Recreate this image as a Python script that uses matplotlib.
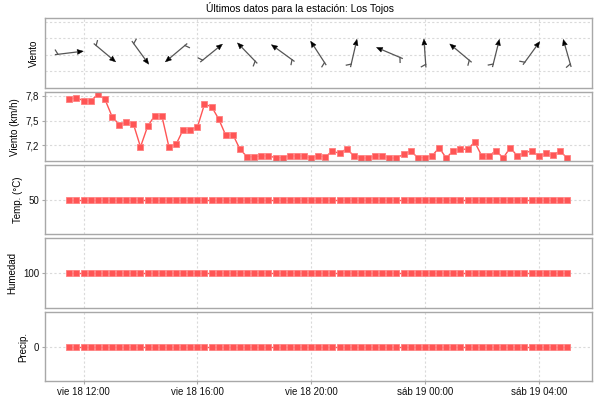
import numpy as np
import pandas as pd
import matplotlib
matplotlib.use('Agg')
import matplotlib.pyplot as plt
import matplotlib.dates as mdates
import matplotlib.transforms as mtransforms
from matplotlib.patches import Polygon
from matplotlib.ticker import FuncFormatter

plt.rcParams['font.family'] = ['Liberation Sans', 'DejaVu Sans']
plt.rcParams['font.size'] = 7

# datos: una lectura cada 15 minutos
horas = pd.date_range('2010-06-18 11:30', periods=71, freq='15min')

viento = [7.76, 7.78, 7.74, 7.74, 7.82, 7.76, 7.55, 7.45, 7.48, 7.46, 7.18,
          7.43, 7.56, 7.56, 7.18, 7.21, 7.39, 7.39, 7.42, 7.70, 7.67, 7.52,
          7.32, 7.33, 7.15, 7.06, 7.06, 7.07, 7.07, 7.05, 7.05, 7.07, 7.07,
          7.07, 7.045, 7.07, 7.06, 7.13, 7.10, 7.16, 7.07, 7.045, 7.045, 7.07,
          7.07, 7.045, 7.045, 7.09, 7.13, 7.05, 7.05, 7.07, 7.17, 7.045, 7.135,
          7.155, 7.15, 7.24, 7.07, 7.07, 7.135, 7.045, 7.17, 7.07, 7.11, 7.13,
          7.07, 7.10, 7.08, 7.13, 7.045]
temperatura = [50] * 71
humedad = [100] * 71
precip = [0] * 71

# direccion de la flecha (grados, 0 = norte) cada 5 lecturas
dir_viento = [83, 130, 144, 230, 51, 316, 306, 327, 13, 293, 356, 310, 14, 36, 344]

dias = ['lun', 'mar', 'mié', 'jue', 'vie', 'sáb', 'dom']
rojo = '#ff5555'
gris = '#a8a8a8'

fig = plt.figure(figsize=(6, 4), dpi=100)
W, H = 600., 400.


def rect(top, bottom):
    return [44.5 / W, 1 - bottom / H, (592 - 44.5) / W, (bottom - top) / H]


ax0 = fig.add_axes(rect(18, 88.3))
ax1 = fig.add_axes(rect(92.3, 161.3), sharex=ax0)
ax2 = fig.add_axes(rect(165, 234), sharex=ax0)
ax3 = fig.add_axes(rect(238.3, 307.7), sharex=ax0)
ax4 = fig.add_axes(rect(312.3, 381), sharex=ax0)
axes = [ax0, ax1, ax2, ax3, ax4]

t0, t1 = mdates.date2num(horas[0]), mdates.date2num(horas[-1])
span = t1 - t0


def fmt(x, pos):
    d = mdates.num2date(x)
    return dias[d.weekday()] + ' ' + d.strftime('%d %H:%M')


for ax in axes:
    for s in ax.spines.values():
        s.set_color(gris)
        s.set_linewidth(1)
    ax.grid(True, color='#dadada', linestyle=(0, (2, 2)), linewidth=0.8)
    ax.set_axisbelow(True)
    ax.tick_params(length=2, color=gris, labelsize=7, pad=2, labelcolor='#111111')
    ax.xaxis.set_major_locator(mdates.HourLocator(byhour=range(0, 24, 4)))
    ax.xaxis.set_major_formatter(FuncFormatter(fmt))
    if ax is not ax4:
        ax.tick_params(axis='x', length=0, labelbottom=False)
ax0.set_xlim(t0 - 0.05 * span, t1 + 0.05 * span)

# panel de direccion
ax0.set_ylim(-1.03, 3.24)
ax0.set_yticks([0, 1, 2, 3])
ax0.tick_params(axis='y', length=0, labelleft=False)
ax0.set_ylabel('Viento')
L, hl, hw = 28, 6, 5
for t, d in zip(horas[::5], dir_viento):
    a = np.deg2rad(90 - d)
    u = np.array([np.cos(a), np.sin(a)])
    n = np.array([-u[1], u[0]])
    tr = mtransforms.IdentityTransform() + mtransforms.ScaledTranslation(
        mdates.date2num(t), 1.12, ax0.transData)
    tail, tip = -L / 2 * u, L / 2 * u
    base = tip - hl * u
    ax0.plot([tail[0], base[0]], [tail[1], base[1]], color='#555555', lw=0.9,
             transform=tr, clip_on=False)
    ax0.add_patch(Polygon([tip, base + hw / 2 * n, base - hw / 2 * n], closed=True,
                          fc='black', ec='black', lw=0.3, transform=tr, clip_on=False))
    b = np.deg2rad(90 - d + 115)
    s0 = tail + 2.5 * u
    s1 = s0 + 5 * np.array([np.cos(b), np.sin(b)])
    ax0.plot([s0[0], s1[0]], [s0[1], s1[1]], color='#555555', lw=0.9,
             transform=tr, clip_on=False)

mk = dict(marker='s', ms=5, mfc=rojo, mec='#ff8080', mew=0.6)

ax1.plot(horas, viento, color=rojo, lw=1, **mk)
ax1.set_ylim(7.005, 7.845)
ax1.set_yticks([7.2, 7.5, 7.8])
ax1.yaxis.set_major_formatter(FuncFormatter(lambda v, p: f'{v:.1f}'.replace('.', ',')))
ax1.set_ylabel('Viento (km/h)')

ax2.plot(horas, temperatura, color=rojo, lw=1, **mk)
ax2.set_ylim(0, 100)
ax2.set_yticks([50])
ax2.set_ylabel('Temp. (°C)')

ax3.plot(horas, humedad, color=rojo, lw=1, **mk)
ax3.set_ylim(50, 150)
ax3.set_yticks([100])
ax3.set_ylabel('Humedad')

ax4.plot(horas, precip, color=rojo, lw=1, **mk)
ax4.set_ylim(-1, 1)
ax4.set_yticks([0])
ax4.set_ylabel('Precip.')

fig.text(0.5, 1 - 8 / H, 'Últimos datos para la estación: Los Tojos',
         ha='center', va='center', fontsize=7.5)

fig.savefig('out.png', dpi=100)
